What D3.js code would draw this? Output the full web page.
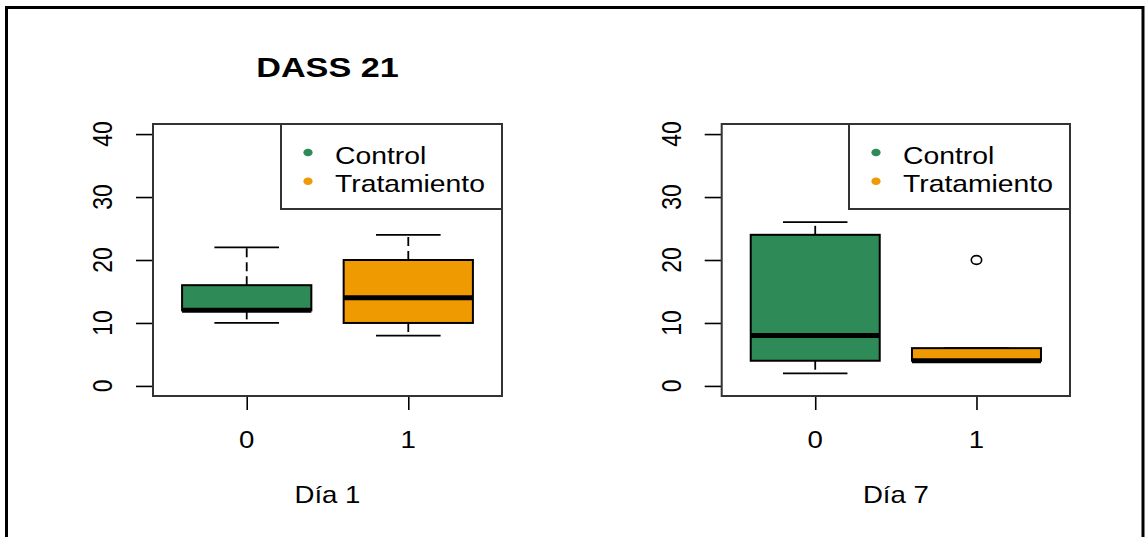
<!DOCTYPE html>
<html>
<head>
<meta charset="utf-8">
<script src="https://cdn.jsdelivr.net/npm/d3@7"></script>
<style>
  html, body { margin: 0; padding: 0; background: #ffffff; }
  svg { display: block; }
  text { font-family: "Liberation Sans", Arial, sans-serif; fill: #000; }
</style>
</head>
<body>
<svg id="chart" width="1145" height="537"></svg>
<script>
// DASS 21 scores by day, Control (0) vs Tratamiento (1)
const days = ["Día 1", "Día 7"];
const groupCodes = ["0", "1"];
const groupNames = ["Control", "Tratamiento"];
const groupColors = ["#2E8B57", "#EE9A00"];

// Five-number summaries per day: [Control, Tratamiento]
const lowerWhisker = [[10, 8], [2, 4]];
const q1 = [[12, 10], [4, 4]];
const medians = [[12, 14], [8, 4]];
const q3 = [[16, 20], [24, 6]];
const upperWhisker = [[22, 24], [26, 6]];
const outliers = [[[], []], [[], [20]]];

const yTicks = [0, 10, 20, 30, 40];
const chartTitle = "DASS 21";

const svg = d3.select("#chart");
const SX = 1.2;            // horizontal glyph stretch
const FS = 23;             // base font size

// outer frame
svg.append("path")
  .attr("d", "M6.5,540 L6.5,7.5 L1143,7.5 L1143,540")
  .attr("fill", "none")
  .attr("stroke", "#000")
  .attr("stroke-width", 3);

const panels = [
  { left: 153, right: 502 },
  { left: 721.7, right: 1070 }
];
const plotTop = 124, plotBottom = 396;

panels.forEach((p, di) => {
  const g = svg.append("g");

  const x = d3.scaleLinear().domain([0.42, 2.58]).range([p.left, p.right]);
  const y = d3.scaleLinear().domain([-1.6, 41.6]).range([plotBottom, plotTop]);
  const px = i => x(i + 1);
  const boxHalf = x(1.4) - x(1);
  const capHalf = x(1.2) - x(1);

  // y axis
  const yAxis = d3.axisLeft(y).tickValues(yTicks).tickSize(17).tickFormat("");
  const ya = g.append("g").attr("transform", `translate(${p.left},0)`).call(yAxis);
  ya.select(".domain").remove();
  ya.selectAll(".tick line").attr("stroke", "#000").attr("stroke-width", 1.6);
  yTicks.forEach(t => {
    g.append("text")
      .attr("transform", `translate(${p.left - 41},${y(t)}) rotate(-90) scale(1,${SX})`)
      .attr("text-anchor", "middle")
      .style("font-size", FS + "px")
      .text(t);
  });

  // x axis
  const xAxis = d3.axisBottom(x).tickValues([1, 2]).tickSize(14).tickFormat("");
  const xa = g.append("g").attr("transform", `translate(0,${plotBottom})`).call(xAxis);
  xa.select(".domain").remove();
  xa.selectAll(".tick line").attr("stroke", "#000").attr("stroke-width", 1.6);
  groupCodes.forEach((c, i) => {
    g.append("text")
      .attr("transform", `translate(${px(i)},448) scale(${SX},1)`)
      .attr("text-anchor", "middle")
      .style("font-size", FS + "px")
      .text(c);
  });

  // x axis title
  g.append("text")
    .attr("transform", `translate(${(p.left + p.right) / 2},503) scale(${SX},1)`)
    .attr("text-anchor", "middle")
    .style("font-size", FS + "px")
    .text(days[di]);

  // boxes
  groupCodes.forEach((c, i) => {
    const cx = px(i);
    // whiskers
    [[q3[di][i], upperWhisker[di][i]], [q1[di][i], lowerWhisker[di][i]]].forEach(([a, b]) => {
      g.append("line")
        .attr("x1", cx).attr("x2", cx)
        .attr("y1", y(a)).attr("y2", y(b))
        .attr("stroke", "#000").attr("stroke-width", 1.8)
        .attr("stroke-dasharray", "9,5");
      g.append("line")
        .attr("x1", cx - capHalf).attr("x2", cx + capHalf)
        .attr("y1", y(b)).attr("y2", y(b))
        .attr("stroke", "#000").attr("stroke-width", 1.8);
    });
    // box
    g.append("rect")
      .attr("x", cx - boxHalf)
      .attr("y", y(q3[di][i]))
      .attr("width", boxHalf * 2)
      .attr("height", y(q1[di][i]) - y(q3[di][i]))
      .attr("fill", groupColors[i])
      .attr("stroke", "#000")
      .attr("stroke-width", 2);
    // median
    g.append("line")
      .attr("x1", cx - boxHalf).attr("x2", cx + boxHalf)
      .attr("y1", y(medians[di][i])).attr("y2", y(medians[di][i]))
      .attr("stroke", "#000").attr("stroke-width", 5);
    // outliers
    outliers[di][i].forEach(v => {
      g.append("ellipse")
        .attr("cx", cx).attr("cy", y(v))
        .attr("rx", 5.2).attr("ry", 4.4)
        .attr("fill", "none")
        .attr("stroke", "#000").attr("stroke-width", 1.6);
    });
  });

  // plot frame
  g.append("rect")
    .attr("x", p.left).attr("y", plotTop)
    .attr("width", p.right - p.left).attr("height", plotBottom - plotTop)
    .attr("fill", "none")
    .attr("stroke", "#333").attr("stroke-width", 2);

  // legend
  const lg = g.append("g");
  const lx = p.right - 221;
  lg.append("rect")
    .attr("x", lx).attr("y", plotTop)
    .attr("width", 221).attr("height", 85)
    .attr("fill", "#fff")
    .attr("stroke", "#333").attr("stroke-width", 2);
  groupNames.forEach((name, i) => {
    const ly = 152.5 + i * 28.7;
    lg.append("ellipse")
      .attr("cx", lx + 27).attr("cy", ly)
      .attr("rx", 4.6).attr("ry", 3.8)
      .attr("fill", groupColors[i]);
    lg.append("text")
      .attr("transform", `translate(${lx + 54},${ly + 11}) scale(${SX},1)`)
      .style("font-size", "23.6px")
      .text(name);
  });

  // title on the first panel
  if (di === 0) {
    g.append("text")
      .attr("transform", `translate(${(p.left + p.right) / 2},77) scale(${SX},1)`)
      .attr("text-anchor", "middle")
      .style("font-size", "28.5px")
      .style("font-weight", "bold")
      .text(chartTitle);
  }
});
</script>
</body>
</html>
